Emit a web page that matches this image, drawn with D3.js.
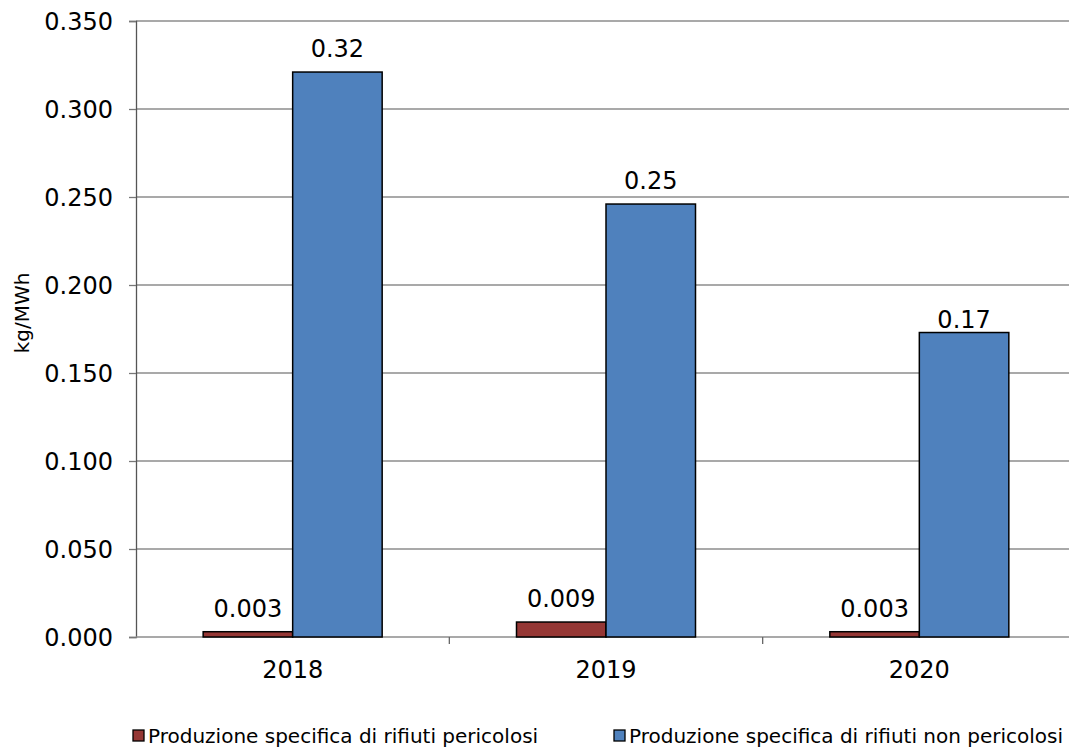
<!DOCTYPE html>
<html><head><meta charset="utf-8">
<script src="https://cdn.jsdelivr.net/npm/d3@7"></script>
<style>body{margin:0;background:#fff}svg{display:block}</style>
</head><body>
<svg id="c" width="1069" height="749"></svg>
<script>
const categories = ["2018", "2019", "2020"];
const seriesNames = ["Produzione specifica di rifiuti pericolosi", "Produzione specifica di rifiuti non pericolosi"];
const hazardous = [0.003, 0.0085, 0.003];
const nonHazardous = [0.321, 0.246, 0.173];
const hazardousLabels = ["0.003", "0.009", "0.003"];
const nonHazardousLabels = ["0.32", "0.25", "0.17"];
const yTicks = [0, 0.05, 0.1, 0.15, 0.2, 0.25, 0.3, 0.35];
const colors = ["#953735", "#4F81BD"];

(function () {
const svg = d3.select("#c");
const pLeft = 136, pRight = 1076, pTop = 21, pBottom = 637;
const font = "DejaVu Sans, Verdana, sans-serif";
const fs = 24;

const y = d3.scaleLinear().domain([0, 0.35]).range([pBottom, pTop]);
const x = d3.scaleBand().domain(categories).range([pLeft, pRight]).paddingInner(0).paddingOuter(0);
const barW = 89.5;

// gridlines
svg.append("g").selectAll("line").data(yTicks.filter(d => d > 0)).join("line")
  .attr("x1", pLeft).attr("x2", pRight).attr("y1", d => y(d)).attr("y2", d => y(d))
  .attr("stroke", "#8c8c8c").attr("stroke-width", 1.3);

// y axis
const yAxis = d3.axisLeft(y).tickValues(yTicks).tickFormat(d3.format(".3f")).tickSize(7).tickPadding(16);
const gy = svg.append("g").attr("transform", `translate(${pLeft},0)`).call(yAxis);
gy.select(".domain").attr("stroke", "#555").attr("stroke-width", 1.3);
gy.selectAll(".tick line").attr("stroke", "#777").attr("stroke-width", 1.3);
gy.selectAll("text").attr("font-family", font).attr("font-size", fs).attr("fill", "#000").attr("dy", "0.36em");

// x axis
const gx = svg.append("g").attr("transform", `translate(0,${pBottom})`);
gx.append("line").attr("x1", pLeft).attr("x2", pRight).attr("stroke", "#8c8c8c").attr("stroke-width", 1.3);
gx.selectAll("line.tk").data(categories.slice(1)).join("line").attr("class", "tk")
  .attr("x1", d => x(d)).attr("x2", d => x(d)).attr("y1", 0).attr("y2", 7)
  .attr("stroke", "#666").attr("stroke-width", 1.3);
gx.selectAll("text").data(categories).join("text")
  .attr("x", d => x(d) + x.bandwidth() / 2).attr("y", 41)
  .attr("text-anchor", "middle").attr("font-family", font).attr("font-size", fs)
  .text(d => d);

// bars
const series = [hazardous, nonHazardous];
const labels = [hazardousLabels, nonHazardousLabels];
const labelGap = (si, i) => (si === 1 && i === 2) ? 5 : 15;
series.forEach((vals, si) => {
  const g = svg.append("g");
  g.selectAll("rect").data(categories).join("rect")
    .attr("x", d => x(d) + x.bandwidth() / 2 + (si - 1) * barW)
    .attr("y", (d, i) => y(vals[i]))
    .attr("width", barW)
    .attr("height", (d, i) => pBottom - y(vals[i]))
    .attr("fill", colors[si]).attr("stroke", "#000").attr("stroke-width", 1.5);
  g.selectAll("text").data(categories).join("text")
    .attr("x", d => x(d) + x.bandwidth() / 2 + (si - 0.5) * barW)
    .attr("y", (d, i) => y(vals[i]) - labelGap(si, i))
    .attr("text-anchor", "middle").attr("font-family", font).attr("font-size", fs)
    .text((d, i) => labels[si][i]);
});

// y title
svg.append("text").attr("transform", "translate(29,313) rotate(-90)")
  .attr("text-anchor", "middle").attr("font-family", font).attr("font-size", 20)
  .text("kg/MWh");

// legend
const legX = [133, 614];
seriesNames.forEach((n, i) => {
  svg.append("rect").attr("x", legX[i]).attr("y", 730).attr("width", 11).attr("height", 11)
    .attr("fill", colors[i]).attr("stroke", "#000").attr("stroke-width", 1.3);
  svg.append("text").attr("x", legX[i] + 15).attr("y", 743)
    .attr("font-family", font).attr("font-size", 20).text(n);
});
})();
</script>
</body></html>
